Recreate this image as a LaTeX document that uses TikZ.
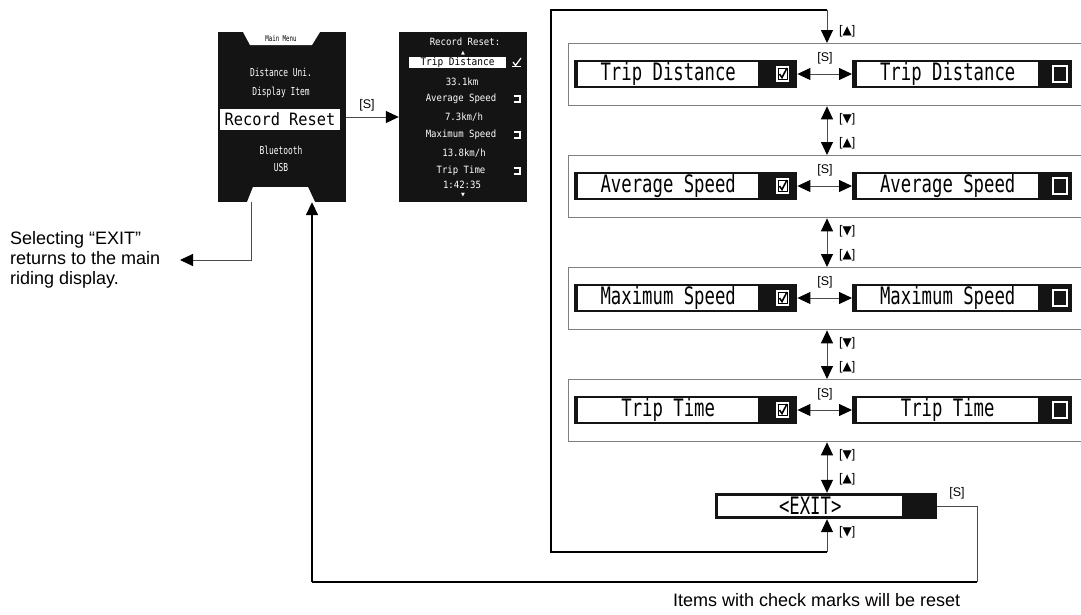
\documentclass[tikz,border=0pt]{standalone}
\usepackage{fontspec}
\setmainfont{Liberation Sans}
\newfontfamily\dv{DejaVu Sans}
\newfontfamily\lcd[FakeStretch=0.72]{DejaVu Sans Mono}
\newfontfamily\lcdb[FakeStretch=0.9]{DejaVu Sans Mono}
\usetikzlibrary{arrows.meta}
\definecolor{scr}{HTML}{141414}
\definecolor{con}{HTML}{4A4A4A}
\definecolor{frm}{HTML}{808080}
\begin{document}
\begin{tikzpicture}[x=1pt,y=-1pt,
  >={Triangle[length=13pt,width=12pt,color=black]},
  screen/.style={fill=scr, inner sep=0pt, minimum width=128pt, minimum height=170pt},
  itembox/.style={fill=scr, inner sep=0pt, minimum height=28pt},
  field/.style={fill=white, inner sep=0pt, minimum height=22pt, font=\lcd\fontsize{24}{24}\selectfont},
  frame/.style={draw=frm, line width=1.3pt, inner sep=0pt, minimum height=62pt, minimum width=530pt},
  conn/.style={draw=con, line width=1pt},
  loopline/.style={draw=black, line width=1.8pt},
  lbl/.style={font=\fontsize{12.5}{12.5}\selectfont, inner sep=0pt},
  tri/.style={font=\dv\fontsize{12}{12}\selectfont},
  tiny/.style={text=white, font=\lcd\fontsize{11}{11}\selectfont, inner sep=0pt},
  tinyb/.style={text=white, font=\lcdb\fontsize{10}{10}\selectfont, inner sep=0pt},
  note/.style={font=\fontsize{18}{20}\selectfont, align=left, inner sep=0pt},
  chkon/.style={fill=white, inner sep=0pt, minimum width=13pt, minimum height=16pt},
  chkoff/.style={fill=scr, draw=white, line width=1.8pt, inner sep=0pt, minimum width=14pt, minimum height=16pt}]
\useasboundingbox (0,0) rectangle (1081,614);

% ---------- main menu screen ----------
\node[screen] (ms) at (282,117) {};
\fill[white] (243,32) -- (320,32) -- (312,45) -- (250,45) -- cycle;
\node[font=\lcd\fontsize{8}{8}\selectfont, inner sep=0pt] (mt) at (281,39) {Main Menu};
\node[tiny] (mi1) at (281,72) {Distance Uni.};
\node[tiny] (mi2) at (281,92) {Display Item};
\node[fill=white, minimum width=120pt, minimum height=21pt, inner sep=0pt, font=\lcdb\fontsize{17}{17}\selectfont] (mrr) at (280,119.5) {Record Reset};
\node[tiny] (mi3) at (281,150) {Bluetooth};
\node[tiny] (mi4) at (281,167) {USB};
\fill[white] (253,187) -- (308,187) -- (315,202) -- (247,202) -- cycle;

% ---------- record reset screen ----------
\node[screen] (rs) at (463,117) {};
\node[tinyb] (r0) at (465,42) {Record Reset:};
\node[text=white, font=\dv\fontsize{5}{5}\selectfont, inner sep=0pt] (rup) at (463,53) {▲};
\node[fill=white, minimum width=97pt, minimum height=9pt, inner sep=0pt, font=\lcdb\fontsize{10.5}{10}\selectfont] (rh) at (457.5,62.5) {Trip Distance};
\draw[white, line width=1.2pt] (513,62) -- (515.5,65.5) -- (521,58);
\draw[white, line width=0.8pt] (512,66) -- (521,66);
\node[tinyb] (rv1) at (462,82) {33.1km};
\node[tinyb] (ri2) at (461,99) {Average Speed};
\node[tinyb] (rv2) at (464,117) {7.3km/h};
\node[tinyb] (ri3) at (461,135) {Maximum Speed};
\node[tinyb] (rv3) at (464,153) {13.8km/h};
\node[tinyb] (ri4) at (461,171) {Trip Time};
\node[tinyb] (rv4) at (462,185) {1:42:35};
\node[text=white, font=\dv\fontsize{5}{5}\selectfont, inner sep=0pt] (rdn) at (463,195) {▼};
\foreach \yy in {99,135,171}{
  \draw[white, line width=1.2pt] (514,\yy-3) -- (520,\yy-3) -- (520,\yy+3) -- (514,\yy+3);
}

% main -> record reset
\draw[conn,->] (ms.east) -- (rs.west);
\node[lbl] (s0) at (367,105) {[S]};

% exit to main riding display
\coordinate (exitpt) at (180,260);
\draw[conn,->] ([xshift=-31pt]ms.south) |- (exitpt);
\node[note, anchor=west] (n1) at (10,260) {Selecting “EXIT”\\returns to the main\\riding display.};

% ---------- item rows ----------
\coordinate (xa) at (827,0);
\foreach \i/\txt in {1/Trip Distance,2/Average Speed,3/Maximum Speed,4/Trip Time}{
  \pgfmathsetmacro\tp{43+112*(\i-1)}
  \pgfmathsetmacro\cy{\tp+31}
  \pgfmathsetmacro\bt{\tp+62}
  \node[frame, anchor=north west] (f\i) at (568,\tp) {};
  \node[itembox, minimum width=223pt, anchor=west] (l\i) at (574,\cy) {};
  \node[field, minimum width=180pt, anchor=west] (lt\i) at (578,\cy) {\txt};
  \node[chkon] (lc\i) at (782.5,\cy) {};
  \draw[line width=0.6pt] ([shift={(-4.5,-5.5)}]lc\i.center) rectangle ([shift={(4.5,5.5)}]lc\i.center);
  \draw[line width=1.6pt] ([shift={(-3,0)}]lc\i.center) -- ([shift={(-0.5,3.5)}]lc\i.center) -- ([shift={(4.5,-6)}]lc\i.center);
  \node[itembox, minimum width=220pt, anchor=west] (r\i) at (852,\cy) {};
  \node[field, minimum width=181pt, anchor=west] (rt\i) at (857,\cy) {\txt};
  \node[chkoff] (rc\i) at (1060,\cy) {};
  \draw[conn,<->] (l\i.east) -- (r\i.west);
  \node[lbl] (s\i) at (825,\cy-16) {[S]};
  \node[lbl, anchor=west] (dn\i) at (839,\bt+14) {[{\dv\fontsize{12}{12}\selectfont ▼}]};
  \node[lbl, anchor=west] (up\i) at (839,\bt+38) {[{\dv\fontsize{12}{12}\selectfont ▲}]};
}
\foreach \i/\j in {1/2,2/3,3/4}{
  \draw[conn,<->] (f\i.south -| xa) -- (f\j.north -| xa);
}

% ---------- EXIT ----------
\node[itembox, minimum width=222pt, minimum height=26pt, anchor=west] (ex) at (715,506) {};
\node[field, minimum width=184pt, minimum height=20pt, anchor=west] (ext) at (718,506) {<EXIT>};
\draw[conn,<->] (f4.south -| xa) -- (ex.north -| xa);

% loop back to top
\coordinate (lb) at (827,552);
\coordinate (lbl) at (551,552);
\coordinate (ltl) at (551,10);
\coordinate (lt) at (827,10);
\draw[conn,->] (lb) -- (ex.south -| xa);
\node[lbl, anchor=west] (dn5) at (839,532) {[{\dv\fontsize{12}{12}\selectfont ▼}]};
\draw[loopline] (lb) -- (lbl) -- (ltl) -- (lt);
\draw[conn,->] (lt) -- (f1.north -| xa);
\node[lbl, anchor=west] (up0) at (839,31) {[{\dv\fontsize{12}{12}\selectfont ▲}]};

% EXIT [S] back to main menu
\coordinate (br) at (977,582);
\coordinate (bl) at (312,582);
\draw[conn] (ex.east) -| (br);
\draw[loopline] (br) -- (bl);
\draw[loopline,->] (bl) -- (ms.south -| bl);
\node[lbl] (s5) at (957,493) {[S]};
\node[note, anchor=west] (n2) at (673,600) {Items with check marks will be reset};
\end{tikzpicture}
\end{document}
